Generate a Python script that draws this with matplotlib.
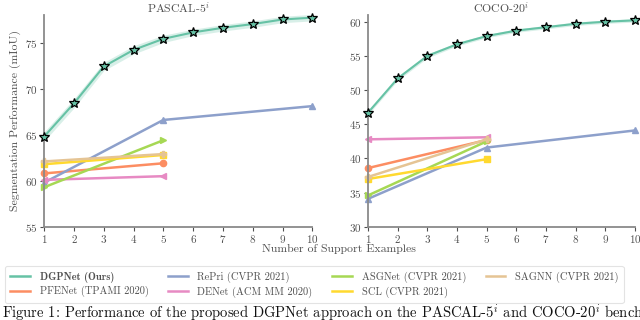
import numpy as np
import matplotlib
matplotlib.use('Agg')
import matplotlib.pyplot as plt

plt.rcParams.update({'font.family': ['cmr10', 'DejaVu Serif'],
                     'mathtext.fontset': 'cm',
                     'axes.formatter.use_mathtext': True,
                     'font.size': 8})

shots = [1, 2, 3, 4, 5, 6, 7, 8, 9, 10]

# PASCAL-5i
pascal_dgp = [64.8, 68.4, 72.4, 74.2, 75.4, 76.1, 76.6, 77.0, 77.5, 77.7]
pascal_dgp_std = [0.5, 0.5, 0.45, 0.45, 0.4, 0.35, 0.35, 0.35, 0.35, 0.35]
pascal_repri = [59.8, 66.6, 68.1]
pascal_asgnet = [59.3, 64.4]
pascal_sagnn = [62.1, 62.9]
pascal_scl = [61.8, 62.8]
pascal_pfenet = [60.8, 61.9]
pascal_denet = [60.1, 60.5]

# COCO-20i
coco_dgp = [46.7, 51.7, 55.0, 56.7, 57.9, 58.7, 59.2, 59.7, 60.0, 60.2]
coco_dgp_std = [0.3, 0.3, 0.3, 0.25, 0.25, 0.25, 0.25, 0.25, 0.25, 0.25]
coco_repri = [34.1, 41.6, 44.1]
coco_asgnet = [34.6, 42.5]
coco_sagnn = [37.3, 42.8]
coco_scl = [37.0, 39.9]
coco_pfenet = [38.6, 42.7]
coco_denet = [42.8, 43.1]

c_dgp, c_pfe, c_repri, c_denet, c_asg, c_scl, c_sagnn = (
    '#66c2a5', '#fc8d62', '#8da0cb', '#e78ac3', '#a6d854', '#ffd92f', '#e5c494')
txt = '#505050'


def draw(ax, dgp, std, repri, asg, sagnn, scl, pfe, den, title, ylim, yticks):
    dgp = np.array(dgp)
    std = np.array(std)
    ax.fill_between(shots, dgp - std, dgp + std, color=c_dgp, alpha=0.25, lw=0)
    ax.plot(shots, dgp, color=c_dgp, lw=1.5, marker='*', ms=7,
            mfc=c_dgp, mec='k', mew=0.9, zorder=5, label='DGPNet (Ours)')
    ax.plot([1, 5], pfe, color=c_pfe, lw=1.8, marker='o', ms=4.5, label='PFENet (TPAMI 2020)')
    ax.plot([1, 5, 10], repri, color=c_repri, lw=1.8, marker='^', ms=4.5, label='RePri (CVPR 2021)')
    ax.plot([1, 5], den, color=c_denet, lw=1.8, marker='<', ms=4.5, label='DENet (ACM MM 2020)')
    ax.plot([1, 5], asg, color=c_asg, lw=1.8, marker='>', ms=4.5, label='ASGNet (CVPR 2021)')
    ax.plot([1, 5], scl, color=c_scl, lw=1.8, marker='s', ms=4.5, label='SCL (CVPR 2021)')
    ax.plot([1, 5], sagnn, color=c_sagnn, lw=1.8, marker='P', ms=4.5, label='SAGNN (CVPR 2021)')
    ax.set_xlim(1, 10)
    ax.set_ylim(*ylim)
    ax.set_xticks(shots)
    ax.set_yticks(yticks)
    ax.set_title(title, color=txt, fontsize=8.5, pad=1.5)
    for s in ['top', 'right']:
        ax.spines[s].set_visible(False)
    for s in ['left', 'bottom']:
        ax.spines[s].set_color('#8a8a8a')
        ax.spines[s].set_linewidth(1.3)
    ax.tick_params(colors=txt, labelcolor=txt, length=3, width=0.8, pad=1.5)
    for c in [ax.lines, ax.collections]:
        for a in c:
            a.set_clip_on(False)


fig = plt.figure(figsize=(6.4, 3.2), dpi=100)
ax1 = fig.add_axes([0.069, 0.291, 0.419, 0.6625])
ax2 = fig.add_axes([0.575, 0.291, 0.417, 0.6625])

draw(ax1, pascal_dgp, pascal_dgp_std, pascal_repri, pascal_asgnet, pascal_sagnn,
     pascal_scl, pascal_pfenet, pascal_denet, 'PASCAL-$5^i$', (55, 78), [55, 60, 65, 70, 75])
draw(ax2, coco_dgp, coco_dgp_std, coco_repri, coco_asgnet, coco_sagnn,
     coco_scl, coco_pfenet, coco_denet, 'COCO-$20^i$', (30, 61), [30, 35, 40, 45, 50, 55, 60])

ax1.set_ylabel('Segmentation Performance (mIoU)', color=txt, fontsize=8.5, labelpad=3)
fig.text(0.53, 1 - 252 / 320, 'Number of Support Examples', color=txt, fontsize=8.5, ha='center', va='baseline')

handles, labels = ax1.get_legend_handles_labels()
leg = fig.legend(handles, labels, loc='upper left', bbox_to_anchor=(0.0, 1 - 261 / 320),
                 ncol=4, frameon=True, fontsize=7.5, handlelength=1.9, columnspacing=1.9,
                 handletextpad=0.9, borderpad=0.5, labelspacing=0.35)
leg.get_frame().set_edgecolor('#dddddd')
leg.get_frame().set_linewidth(0.8)
for h in leg.legend_handles:
    h.set_marker('')
    h.set_linewidth(1.8)
for t in leg.get_texts():
    t.set_color(txt)
leg.get_texts()[0].set_fontfamily(['cmb10', 'DejaVu Serif'])

fig.text(0.003, 1 - 318 / 320,
         'Figure 1: Performance of the proposed DGPNet approach on the PASCAL-$5^i$ and COCO-$20^i$ benchmarks',
         fontsize=10.5, color='#111111', ha='left', va='baseline')

fig.savefig('out.png', dpi=100)
